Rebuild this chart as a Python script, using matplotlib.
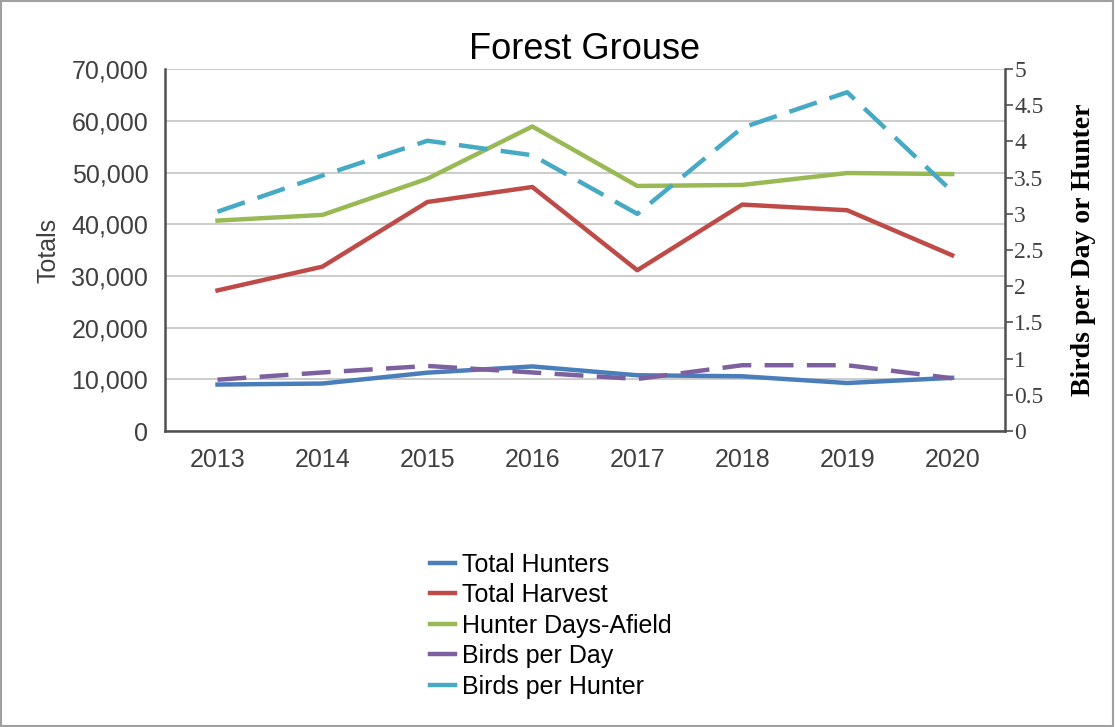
import numpy as np
import matplotlib.pyplot as plt
from matplotlib.lines import Line2D
from matplotlib.ticker import FuncFormatter

plt.rcParams['font.family'] = ['Liberation Sans', 'DejaVu Sans']

years = ['2013', '2014', '2015', '2016', '2017', '2018', '2019', '2020']
total_hunters = [9000, 9200, 11300, 12500, 10800, 10600, 9300, 10300]
total_harvest = [27200, 31800, 44300, 47200, 31100, 43800, 42700, 34000]
days_afield = [40700, 41800, 48800, 58900, 47400, 47600, 49900, 49700]
birds_per_day = [0.71, 0.81, 0.90, 0.81, 0.72, 0.91, 0.91, 0.73]
birds_per_hunter = [3.03, 3.53, 4.01, 3.81, 3.00, 4.19, 4.68, 3.31]

c_blue = '#4a7ebb'
c_red = '#be4b48'
c_green = '#98b954'
c_purple = '#7d60a0'
c_cyan = '#46aac5'
txt = '#404040'
lw = 3.2

fig = plt.figure(figsize=(11.15, 7.27), dpi=100)
ax1 = fig.add_axes([0.148, 0.407, 0.753, 0.498])
x = np.arange(len(years))

ax1.plot(x, total_hunters, color=c_blue, lw=lw, zorder=3)
ax1.plot(x, total_harvest, color=c_red, lw=lw, zorder=3)
ax1.plot(x, days_afield, color=c_green, lw=lw, zorder=3)
ax1.set_ylim(0, 70000)
ax1.set_xlim(-0.5, len(years) - 0.5)
ax1.set_yticks(np.arange(0, 70001, 10000))
ax1.yaxis.set_major_formatter(FuncFormatter(lambda v, p: f'{int(v):,}'))
ax1.set_xticks(x)
ax1.set_xticklabels(years)
ax1.grid(axis='y', color='#c8c8c8', lw=1.3)
ax1.set_axisbelow(True)
ax1.tick_params(axis='y', length=0, pad=12, labelsize=18, labelcolor=txt)
ax1.tick_params(axis='x', length=0, pad=12, labelsize=18, labelcolor=txt)
for s in ['left', 'bottom']:
    ax1.spines[s].set_color('#505050')
    ax1.spines[s].set_linewidth(1.8)
ax1.spines['top'].set_visible(False)
ax1.spines['right'].set_visible(False)
ax1.set_ylabel('Totals', fontsize=18, color=txt, labelpad=8)

ax2 = ax1.twinx()
ax2.plot(x, birds_per_day, color=c_purple, lw=lw, dashes=(6.5, 3), zorder=3)
ax2.plot(x, birds_per_hunter, color=c_cyan, lw=lw, dashes=(6.5, 3), zorder=3)
ax2.set_ylim(0, 5)
ax2.set_yticks(np.arange(0, 5.01, 0.5))
ax2.yaxis.set_major_formatter(FuncFormatter(lambda v, p: f'{v:g}'))
for lab in ax2.get_yticklabels():
    lab.set_family('Liberation Serif')
ax2.tick_params(axis='y', length=6, width=1.2, color='#505050', labelsize=17,
                labelcolor=txt, pad=1)
ax2.spines['right'].set_color('#505050')
ax2.spines['right'].set_linewidth(1.8)
for s in ['left', 'bottom', 'top']:
    ax2.spines[s].set_visible(False)
ax2.set_ylabel('Birds per Day or Hunter', fontsize=20, fontweight='bold',
               family='Liberation Serif', color='black', labelpad=20)

ax1.set_title('Forest Grouse', fontsize=26, color='black', pad=7)

handles = [Line2D([], [], color=c, lw=lw) for c in
           [c_blue, c_red, c_green, c_purple, c_cyan]]
labels = ['Total Hunters', 'Total Harvest', 'Hunter Days-Afield',
          'Birds per Day', 'Birds per Hunter']
fig.legend(handles, labels, loc='upper left', bbox_to_anchor=(0.386, 0.240),
           frameon=False, fontsize=18, handlelength=1.0, handletextpad=0.25,
           labelspacing=0.26, borderaxespad=0, borderpad=0)

border = plt.Rectangle((0.001, 0.002), 0.997, 0.996, transform=fig.transFigure,
                       fill=False, edgecolor='#a0a0a0', lw=1.5)
fig.patches.append(border)

fig.savefig('out.png', dpi=100)
